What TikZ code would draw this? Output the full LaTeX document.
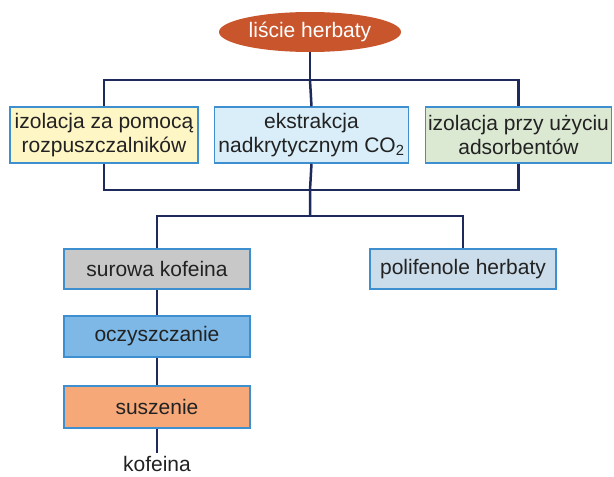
\documentclass[tikz,border=0pt]{standalone}
\usepackage{fontspec}
\setmainfont{Liberation Sans}
\usetikzlibrary{shapes.geometric}
\definecolor{linec}{HTML}{1F2A5C}
\definecolor{boxline}{HTML}{3E8FD0}
\definecolor{ellc}{HTML}{C8552B}
\definecolor{txt}{HTML}{222222}
\definecolor{fyel}{HTML}{FFF6C6}
\definecolor{fblu}{HTML}{D9EEF9}
\definecolor{fgrn}{HTML}{DCE9D2}
\definecolor{fgry}{HTML}{C8C8C8}
\definecolor{fpol}{HTML}{CBDCEA}
\definecolor{focz}{HTML}{7DB8E6}
\definecolor{fsus}{HTML}{F6A878}
\begin{document}
\begin{tikzpicture}[x=1pt,y=-1pt,
  every node/.style={font=\fontsize{21}{24}\selectfont, text=txt},
  box/.style={draw=boxline, line width=1.5pt, rectangle, inner sep=0pt, align=center},
  conn/.style={draw=linec, line width=2.5pt}]
\useasboundingbox (0,0) rectangle (614,477);
\node[ellipse, fill=ellc, minimum width=182pt, minimum height=40pt, inner sep=0pt, text=white] (top) at (310,32) {liście herbaty};
\node[box, fill=fyel, minimum width=188pt, minimum height=56pt] (left) at (104,135) {izolacja za pomocą\\rozpuszczalników};
\node[box, fill=fblu, minimum width=194pt, minimum height=56pt] (mid) at (311.5,135) {ekstrakcja\\nadkrytycznym CO\textsubscript{2}};
\node[box, fill=fgrn, minimum width=186pt, minimum height=56pt] (right) at (518.5,135) {izolacja przy użyciu\\adsorbentów};
\node[box, fill=fgry, minimum width=186pt, minimum height=40pt] (raw) at (157,269) {surowa kofeina};
\node[box, fill=fpol, minimum width=186pt, minimum height=40pt] (poli) at (463,269) {polifenole herbaty};
\node[box, fill=focz, minimum width=186pt, minimum height=41pt] (ocz) at (157,336.5) {oczyszczanie};
\node[box, fill=fsus, minimum width=186pt, minimum height=42pt] (sus) at (157,407) {suszenie};
\node[inner sep=0pt] (kof) at (157,464) {kofeina};
\coordinate (j1) at (310,80);
\coordinate (j2) at (310,190);
\coordinate (j3) at (310,216);
\coordinate (kend) at (157,453);
\draw[conn] (top.south) -- (j1);
\draw[conn] (left.north) |- (j1) -| (right.north);
\draw[conn] (j1) -- (mid.north);
\draw[conn] (left.south) |- (j2) -| (right.south);
\draw[conn] (mid.south) -- (j2) -- (j3);
\draw[conn] (raw.north) |- (j3) -| (poli.north);
\draw[conn] (raw.south) -- (ocz.north);
\draw[conn] (ocz.south) -- (sus.north);
\draw[conn] (sus.south) -- (kend);
\end{tikzpicture}
\end{document}
